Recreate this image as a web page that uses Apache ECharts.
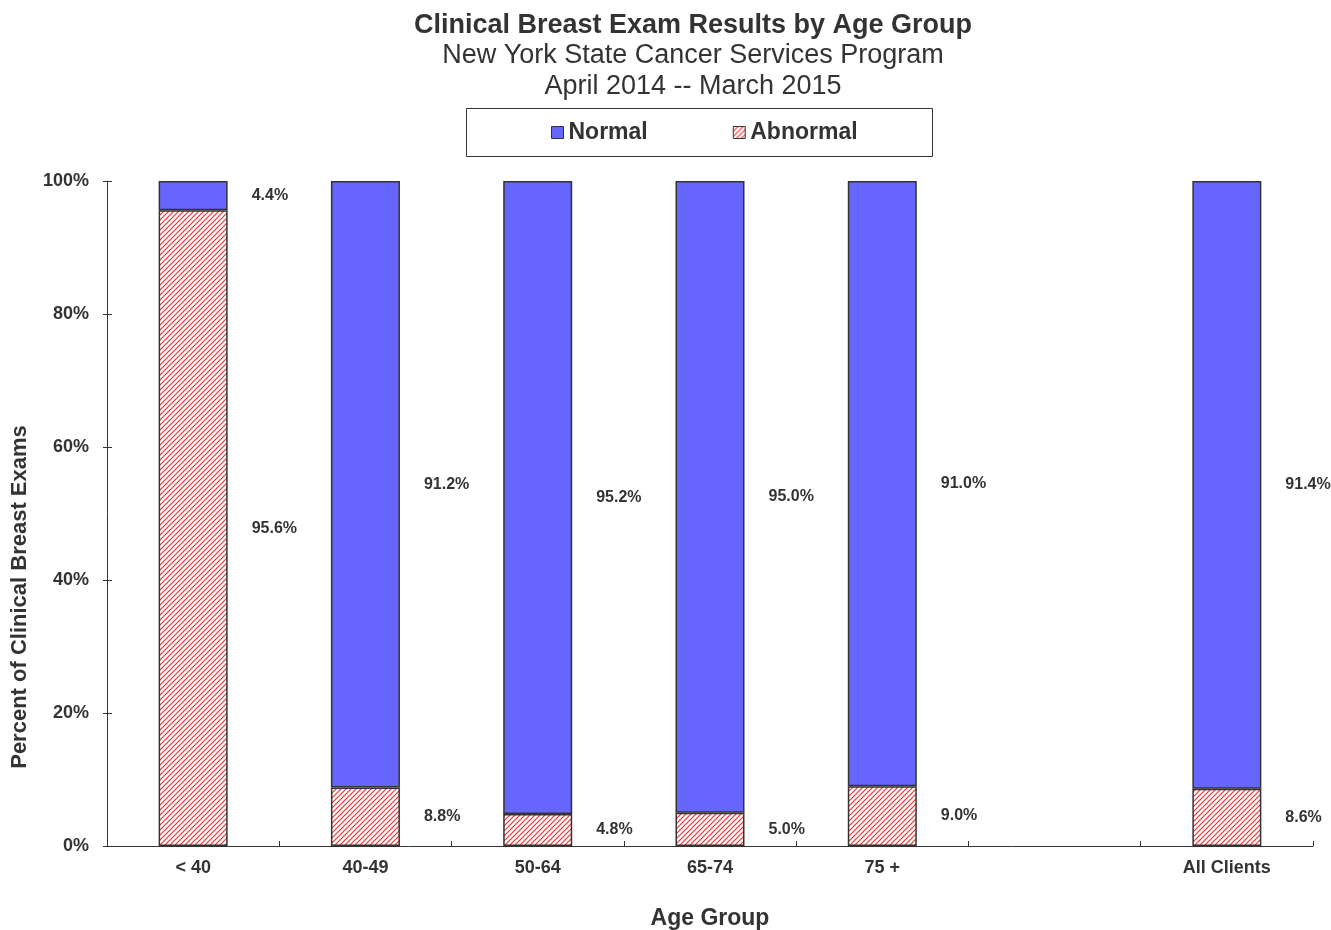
<!DOCTYPE html>
<html>
<head>
<meta charset="utf-8">
<script src="https://cdn.jsdelivr.net/npm/echarts@6/dist/echarts.min.js"></script>
<style>
html,body{margin:0;padding:0;background:#fff;}
#chart{width:1331px;height:930px;}
</style>
</head>
<body>
<div id="chart"></div>
<script>
var categories = ['< 40', '40-49', '50-64', '65-74', '75 +', '', 'All Clients'];
var normalValues = [4.4, 91.2, 95.2, 95.0, 91.0, null, 91.4];
var abnormalValues = [95.6, 8.8, 4.8, 5.0, 9.0, null, 8.6];
var yTickValues = [0, 20, 40, 60, 80, 100];

function makeHatch() {
  var n = 5;
  var c = document.createElement('canvas');
  c.width = n; c.height = n;
  var ctx = c.getContext('2d');
  ctx.fillStyle = '#ffffff';
  ctx.fillRect(0, 0, n, n);
  ctx.strokeStyle = '#f03030';
  ctx.lineWidth = 1.2;
  ctx.beginPath();
  ctx.moveTo(-1, n + 1); ctx.lineTo(n + 1, -1);
  ctx.moveTo(-1, 1); ctx.lineTo(1, -1);
  ctx.moveTo(n - 1, n + 1); ctx.lineTo(n + 1, n - 1);
  ctx.stroke();
  return c;
}
var hatch = makeHatch();

var FONT = '"Liberation Sans", Arial, sans-serif';
var chart = echarts.init(document.getElementById('chart'));
var labelCommon = {
  show: true,
  position: 'right',
  distance: 24,
  fontFamily: FONT,
  fontWeight: 'bold',
  fontSize: 16,
  color: '#333',
  formatter: function (p) { return p.value == null ? '' : p.value.toFixed(1) + '%'; }
};
chart.setOption({
  animation: false,
  backgroundColor: '#fff',
  title: [
    { text: 'Clinical Breast Exam Results by Age Group', left: 688, textAlign: 'center', top: 7,
      textStyle: { fontFamily: FONT, fontSize: 27, fontWeight: 'bold', color: '#333' } },
    { text: 'New York State Cancer Services Program', left: 688, textAlign: 'center', top: 37,
      textStyle: { fontFamily: FONT, fontSize: 27, fontWeight: 'normal', color: '#333' } },
    { text: 'April 2014 -- March 2015', left: 688, textAlign: 'center', top: 68,
      textStyle: { fontFamily: FONT, fontSize: 27, fontWeight: 'normal', color: '#333' } }
  ],
  legend: {
    left: 551, top: 121, padding: 0,
    itemGap: 85,
    itemWidth: 12, itemHeight: 12,
    icon: 'rect',
    textStyle: { fontFamily: FONT, fontSize: 23, fontWeight: 'bold', color: '#333', padding: [0, 0, 0, 0] },
    data: [
      { name: 'Normal', itemStyle: { color: '#6666ff', borderColor: '#333', borderWidth: 1 } },
      { name: 'Abnormal', itemStyle: { color: { image: hatch, repeat: 'repeat' }, borderColor: '#333', borderWidth: 1 } }
    ]
  },
  grid: { left: 107, right: 18, top: 181, bottom: 84, containLabel: false, outerBoundsMode: 'none' },
  xAxis: {
    type: 'category',
    data: categories,
    name: 'Age Group',
    nameLocation: 'middle',
    nameGap: 61,
    nameTextStyle: { fontFamily: FONT, fontSize: 23, fontWeight: 'bold', color: '#333' },
    axisLine: { lineStyle: { color: '#333', width: 1 } },
    axisTick: { show: true, inside: true, length: 5, lineStyle: { color: '#333' } },
    axisLabel: { fontFamily: FONT, fontSize: 18, fontWeight: 'bold', color: '#333', margin: 13 }
  },
  yAxis: [
    {
      type: 'value', min: 0, max: 100, interval: 20,
      splitLine: { show: false },
      axisLine: { show: true, lineStyle: { color: '#333' } },
      axisTick: { show: true, length: 4, lineStyle: { color: '#333' } },
      axisLabel: { fontFamily: FONT, fontSize: 18, fontWeight: 'bold', color: '#333', margin: 18,
        formatter: function (v) { return yTickValues.indexOf(v) >= 0 ? v + '%' : ''; } }
    },
    {
      type: 'value', min: 0, max: 100, interval: 20, position: 'left',
      splitLine: { show: false },
      axisLine: { show: false },
      axisTick: { show: true, inside: true, length: 5, lineStyle: { color: '#333' } },
      axisLabel: { show: false }
    }
  ],
  graphic: [
    { type: 'rect', x: 466.5, y: 108.5, shape: { x: 0, y: 0, width: 466, height: 48 },
      style: { fill: 'none', stroke: '#333', lineWidth: 1 }, z: -1 },
    { type: 'text', x: 20, y: 597, rotation: Math.PI / 2,
      style: { text: 'Percent of Clinical Breast Exams', fontFamily: FONT, fontSize: 22, fontWeight: 'bold',
        fill: '#333', textAlign: 'center', textVerticalAlign: 'middle' } }
  ],
  series: [
    {
      name: 'Abnormal', type: 'bar', stack: 'total', barWidth: 69,
      data: abnormalValues,
      itemStyle: { color: { image: hatch, repeat: 'repeat' }, borderColor: '#333', borderWidth: 1.5 },
      label: labelCommon
    },
    {
      name: 'Normal', type: 'bar', stack: 'total', barWidth: 69,
      data: normalValues,
      itemStyle: { color: '#6666ff', borderColor: '#333', borderWidth: 1.5 },
      label: labelCommon
    }
  ]
});
</script>
</body>
</html>
